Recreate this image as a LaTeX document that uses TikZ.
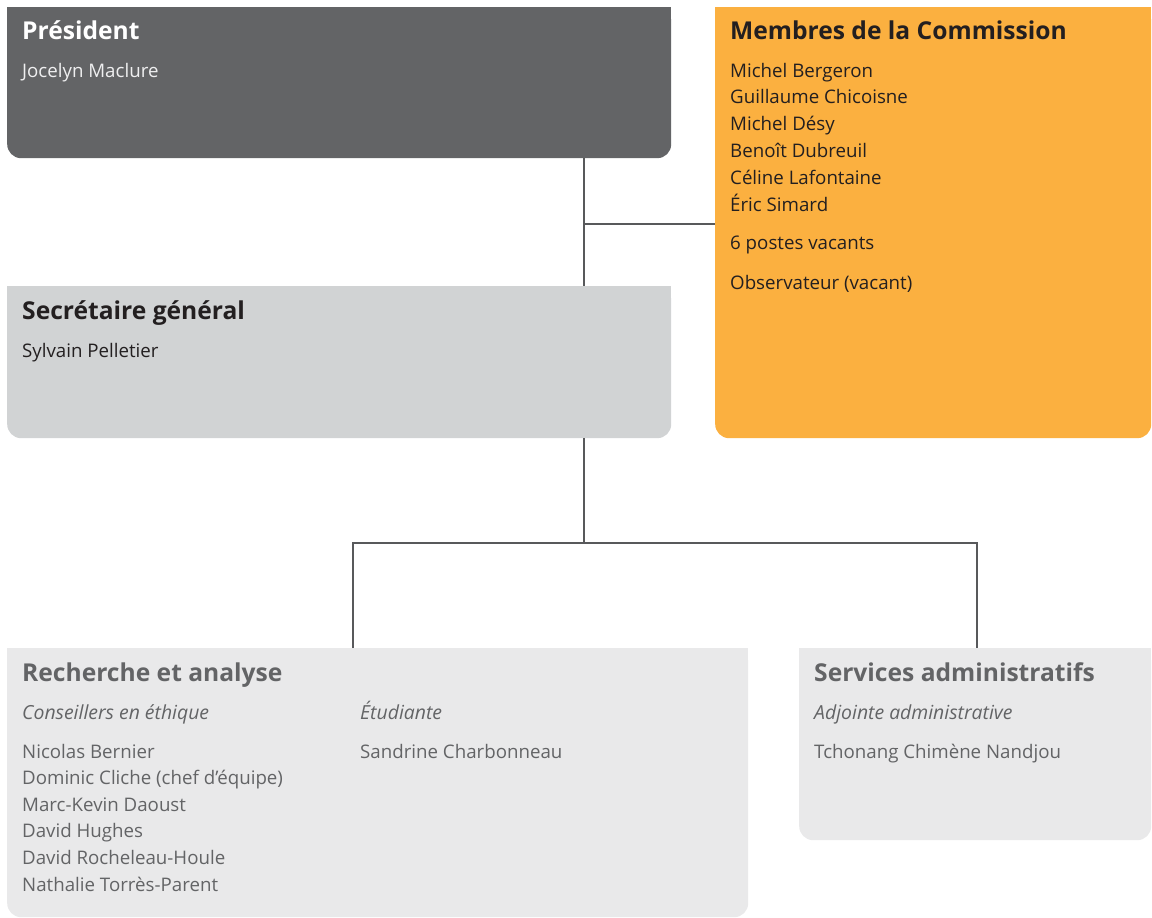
\documentclass[tikz,border=0pt]{standalone}
\usepackage{fontspec}
\setmainfont{Open Sans}
\usetikzlibrary{positioning, calc}
\definecolor{presgray}{HTML}{636466}
\definecolor{secgray}{HTML}{D1D3D4}
\definecolor{memorange}{HTML}{FBB040}
\definecolor{unitgray}{HTML}{E9E9EA}
\definecolor{linegray}{HTML}{58595B}
\definecolor{txtgray}{HTML}{636466}
\definecolor{inkblack}{HTML}{231F20}

\begin{document}
\begin{tikzpicture}[x=1pt, y=-1pt,
    box/.style={anchor=north west, inner sep=0pt, rounded corners=14pt},
    head/.style={anchor=base west, inner sep=0pt, font=\fontsize{24.6}{28}\selectfont\bfseries},
    body/.style={anchor=base west, inner sep=0pt, font=\fontsize{18.7}{22}\selectfont},
    role/.style={body, font=\fontsize{19.4}{22}\selectfont\itshape},
    link/.style={draw=linegray, line width=2.6pt}]
   \useasboundingbox (0,0) rectangle (1152,918);

   % boxes
   \node[box, fill=presgray, minimum width=664pt, minimum height=151pt] (pres) at (7,7) {};
   \node[box, fill=memorange, minimum width=436pt, minimum height=431pt] (memb) at (715,7) {};
   \node[box, fill=secgray, minimum width=664pt, minimum height=152pt] (sec) at (7,286) {};
   \node[box, fill=unitgray, minimum width=741pt, minimum height=269pt] (rech) at (7,648) {};
   \node[box, fill=unitgray, minimum width=352pt, minimum height=192pt] (serv) at (799,648) {};
   \foreach \b/\c in {pres/presgray, memb/memorange, sec/secgray, rech/unitgray, serv/unitgray}
     \fill[\c] (\b.north west) rectangle (\b.east);

   % connectors
   \coordinate (j1) at (584,224);
   \coordinate (j2) at (584,543);
   \coordinate (b1) at (353,543);
   \coordinate (b2) at (977,543);
   \draw[link] (j1 |- pres.south) -- (j1 |- sec.north);
   \draw[link] (j1) -- (j1 -| memb.west);
   \draw[link] (j2 |- sec.south) -- (j2);
   \draw[link] (b1 |- rech.north) -- (b1) -- (b2) -- (b2 |- serv.north);

   % President
   \node[head, text=white] (presT) at (22,39) {Président};
   \node[body, text=white!90!presgray] (presN) at (22,77) {Jocelyn Maclure};

   % Commission
   \node[head, text=inkblack] (membT) at (730,39) {Membres de la Commission};
   \foreach \n [count=\i] in {Michel Bergeron, Guillaume Chicoisne, Michel Désy,
       Benoît Dubreuil, Céline Lafontaine, Éric Simard}
     \node[body, text=inkblack] (memb\i) at (730,{77+26.8*(\i-1)}) {\n};
   \node[body, text=inkblack] (vac) at (730,249) {6 postes vacants};
   \node[body, text=inkblack] (obs) at (730,289) {Observateur (vacant)};

   % Secretaire
   \node[head, text=inkblack] (secT) at (22,319) {Secrétaire général};
   \node[body, text=inkblack] (secN) at (22,357) {Sylvain Pelletier};

   % Recherche
   \node[head, text=txtgray] (rechT) at (22,681) {Recherche et analyse};
   \node[role, text=txtgray] (rechR) at (22,719) {Conseillers en éthique};
   \foreach \n [count=\i] in {Nicolas Bernier, Dominic Cliche (chef d’équipe), Marc-Kevin Daoust,
       David Hughes, David Rocheleau-Houle, Nathalie Torrès-Parent}
     \node[body, text=txtgray] (rech\i) at (22,{758+26.6*(\i-1)}) {\n};
   \node[role, text=txtgray] (etuR) at (360,719) {Étudiante};
   \node[body, text=txtgray] (etuN) at (360,758) {Sandrine Charbonneau};

   % Services
   \node[head, text=txtgray] (servT) at (814,681) {Services administratifs};
   \node[role, text=txtgray] (servR) at (814,719) {Adjointe administrative};
   \node[body, text=txtgray] (servN) at (814,758) {Tchonang Chimène Nandjou};
\end{tikzpicture}
\end{document}
